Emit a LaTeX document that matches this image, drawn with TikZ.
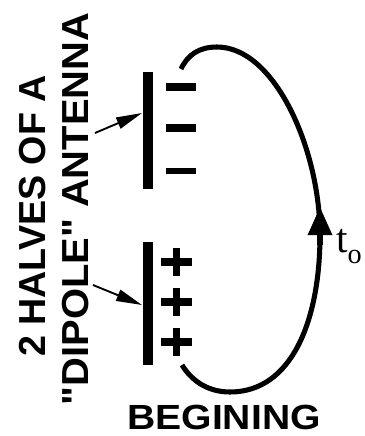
\documentclass[tikz,border=0pt]{standalone}
\usepackage{fontspec}
\setsansfont{Liberation Sans}[Ligatures=TeXOff]
\newfontfamily\serifface{Liberation Serif}
\usetikzlibrary{arrows.meta,positioning}
\tikzset{
 caption/.style={font=\sffamily\bfseries\fontsize{32}{36}\selectfont,inner sep=0pt,rotate=90,anchor=base},
 tag/.style={font=\serifface\fontsize{35}{40}\selectfont,inner sep=0pt,anchor=base west},
 rod/.style={line width=8.5pt,line cap=rect},
 charge/.style={line width=6.4pt},
 pointer/.style={-{Triangle[length=22pt,width=10pt]},line width=1.6pt,draw=black},
 field/.style={line width=4.3pt,draw=black}}
\begin{document}
\begin{tikzpicture}[x=0.85pt,y=-0.85pt]
\useasboundingbox (0,0) rectangle (365,436);
\node[caption] (halves) at (45,216) {2 HALVES OF A};
\node[caption] (dipole) at (88,209) {\scalebox{1.06}[1]{"DIPOLE" ANTENNA}};
\node[tag] (tzero) at (336,252) {t\raisebox{-10pt}{\fontsize{24}{26}\selectfont o}};
\node[font=\sffamily\bfseries\fontsize{29.7}{32}\selectfont,inner sep=0pt,anchor=base,xscale=1.12] (start) at (224,429) {BEGINING};
\coordinate (negtop) at (148,77); \coordinate (negbot) at (148,184);
\coordinate (postop) at (148,247); \coordinate (posbot) at (148,360);
\coordinate (negtip) at (142,113); \coordinate (postip) at (142,305);
\coordinate (negtail) at (95,133); \coordinate (postail) at (93,285);
\draw[rod] (negtop) -- (negbot);
\draw[rod] (postop) -- (posbot);
\foreach \y in {87,128} \draw[charge] (166,\y) -- (196,\y);
\draw[charge,line width=5.5pt] (166,171) -- (196,171);
\foreach \y in {262,302,342} {
 \draw[charge] (161,\y) -- (192,\y);
 \draw[charge] (176.5,\y-14) -- (176.5,\y+14);}
\draw[pointer] (negtail) -- (negtip);
\draw[pointer] (postail) -- (postip);
\draw[field] (181,69) .. controls (188,54) and (200,47) .. (217,47)
 .. controls (275,47) and (320,150) .. (320,235)
 .. controls (320,320) and (292,392) .. (230,392)
 .. controls (205,392) and (190,378) .. (182,365);
\draw[field,-{Triangle[length=24pt,width=20pt]}] (320,245) -- (320,207);
\end{tikzpicture}
\end{document}
